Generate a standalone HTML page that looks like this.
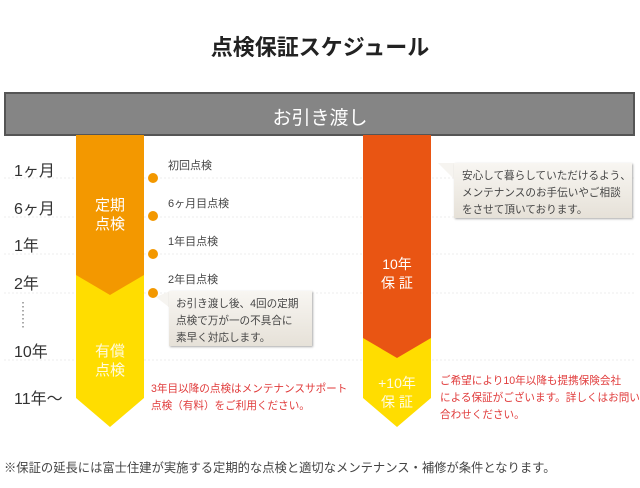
<!DOCTYPE html>
<html><head><meta charset="utf-8">
<style>
body{margin:0;width:640px;height:488px;background:#fff;position:relative;overflow:hidden;font-family:"Liberation Sans","Noto Sans CJK JP",sans-serif;}
.a{position:absolute;margin:0;white-space:nowrap;}
.lbl{font-size:16px;color:#333;left:14px;}
.sm{font-size:11px;color:#444;}
.red{color:#e03a3a;font-size:10.6px;line-height:17px;}
.box{position:absolute;background:linear-gradient(#f8f6f2,#e6e1d8);box-shadow:1px 1px 2px #aaa;font-size:10.6px;color:#444;line-height:17px;padding:5px 7px;box-sizing:border-box;white-space:nowrap;}
.w{color:#fff;font-size:15px;text-align:center;line-height:19px;}
</style></head><body>
<div class="a" style="left:0;width:640px;text-align:center;top:30px;font-size:22px;font-weight:bold;color:#222;">点検保証スケジュール</div>

<svg class="a" style="left:0;top:0" width="640" height="488">
<g stroke="#eee" stroke-dasharray="2,2">
<line x1="4" x2="636" y1="178" y2="178"/><line x1="4" x2="636" y1="217" y2="217"/><line x1="4" x2="636" y1="254" y2="254"/><line x1="4" x2="636" y1="293" y2="293"/><line x1="4" x2="636" y1="360" y2="360"/>
</g>
<rect x="5" y="93" width="629" height="42" fill="#858585" stroke="#555" stroke-width="2"/>
<polygon points="76,275 144,275 144,398 110,427 76,398" fill="#ffdd00"/>
<polygon points="76,135 144,135 144,275 110,295 76,275" fill="#f39800"/>
<polygon points="363,338 431,338 431,398 397,427 363,398" fill="#ffdd00"/>
<polygon points="363,135 431,135 431,338 397,358 363,338" fill="#e95513"/>
<g fill="#f39800">
<circle cx="153" cy="178" r="5"/><circle cx="153" cy="216" r="5"/><circle cx="153" cy="254" r="5"/><circle cx="153" cy="293" r="5"/>
</g>
<line x1="23" x2="23" y1="302" y2="330" stroke="#555" stroke-dasharray="1.5,2.5"/>
<polygon points="438,163 460,163 460,185" fill="#f6f4f0"/>
<polygon points="156,297 170,291 170,308" fill="#f6f4f0"/>
</svg>

<div class="a" style="left:0;width:640px;text-align:center;top:103px;font-size:19px;color:#fff;">お引き渡し</div>

<div class="a lbl" style="top:157px">1ヶ月</div>
<div class="a lbl" style="top:195px">6ヶ月</div>
<div class="a lbl" style="top:232px">1年</div>
<div class="a lbl" style="top:270px">2年</div>
<div class="a lbl" style="top:338px">10年</div>
<div class="a lbl" style="top:385px">11年〜</div>

<div class="a w" style="left:76px;width:68px;top:196px">定期<br>点検</div>
<div class="a w" style="left:76px;width:68px;top:342px;color:#fffbe0">有償<br>点検</div>
<div class="a w" style="left:363px;width:68px;top:255px;font-size:14px">10年<br>保 証</div>
<div class="a w" style="left:363px;width:68px;top:374px;font-size:14px;color:#fffbe0">+10年<br>保 証</div>

<div class="a sm" style="left:168px;top:157px">初回点検</div>
<div class="a sm" style="left:168px;top:195px">6ヶ月目点検</div>
<div class="a sm" style="left:168px;top:233px">1年目点検</div>
<div class="a sm" style="left:168px;top:271px">2年目点検</div>

<div class="box" style="left:454px;top:163px;width:178px;height:55px;padding:5px 8px">安心して暮らしていただけるよう、<br>メンテナンスのお手伝いやご相談<br>をさせて頂いております。</div>
<div class="box" style="left:169px;top:291px;width:143px;height:55px">お引き渡し後、4回の定期<br>点検で万が一の不具合に<br>素早く対応します。</div>

<div class="a red" style="left:151px;top:381px">3年目以降の点検はメンテナンスサポート<br>点検（有料）をご利用ください。</div>
<div class="a red" style="left:440px;top:373px">ご希望により10年以降も提携保険会社<br>による保証がございます。詳しくはお問い<br>合わせください。</div>

<div class="a" style="left:4px;top:458px;font-size:12.3px;color:#444">※保証の延長には富士住建が実施する定期的な点検と適切なメンテナンス・補修が条件となります。</div>
</body></html>
